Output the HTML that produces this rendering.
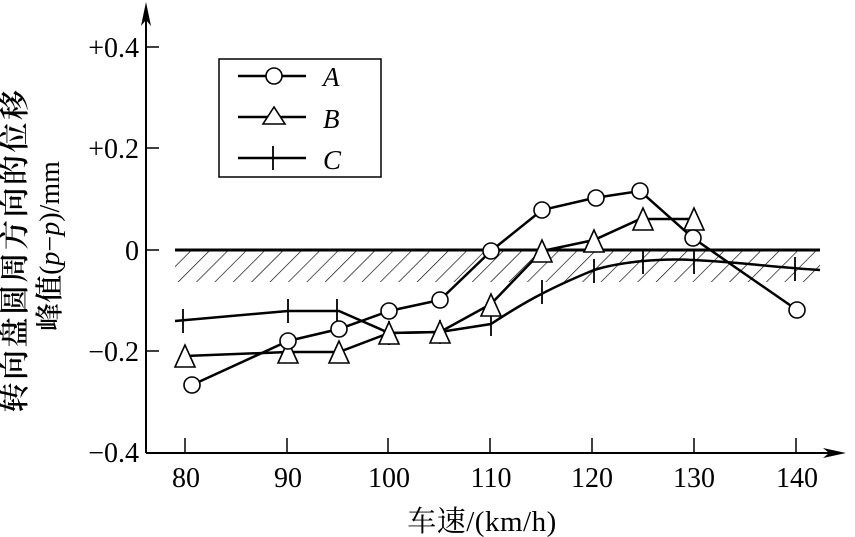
<!DOCTYPE html>
<html><head><style>body{margin:0;background:#fff}svg{display:block}</style></head><body>
<svg width="855" height="537" viewBox="0 0 855 537" xmlns="http://www.w3.org/2000/svg">
<defs>
<pattern id="h" patternUnits="userSpaceOnUse" width="13" height="13" patternTransform="rotate(45)">
<line x1="0" y1="0" x2="0" y2="13" stroke="#000" stroke-width="1.3"/>
</pattern>
</defs>
<rect x="175" y="251" width="645" height="31" fill="url(#h)"/>
<line x1="175" y1="250" x2="820" y2="250" stroke="#000" stroke-width="3"/>
<line x1="146" y1="8" x2="146" y2="453" stroke="#000" stroke-width="2"/>
<polygon points="146,2 141,26 146,20 151,26" fill="#000"/>
<line x1="146" y1="453" x2="838" y2="453" stroke="#000" stroke-width="2"/>
<polygon points="846,453 823,448 829,453 823,458" fill="#000"/>
<g stroke="#000" stroke-width="1.5">
<line x1="146" y1="47" x2="159" y2="47"/><line x1="146" y1="148" x2="159" y2="148"/>
<line x1="146" y1="250" x2="159" y2="250"/><line x1="146" y1="351" x2="159" y2="351"/>
<line x1="185" y1="438" x2="185" y2="453"/><line x1="287" y1="438" x2="287" y2="453"/>
<line x1="388" y1="438" x2="388" y2="453"/><line x1="490" y1="438" x2="490" y2="453"/>
<line x1="592" y1="438" x2="592" y2="453"/><line x1="694" y1="438" x2="694" y2="453"/>
<line x1="796" y1="438" x2="796" y2="453"/>
</g>
<g font-family="Liberation Serif, serif" font-size="28" fill="#000" text-anchor="end">
<text x="139" y="57">+0.4</text><text x="139" y="158">+0.2</text>
<text x="139" y="260">0</text><text x="139" y="361">−0.2</text><text x="139" y="462">−0.4</text>
</g>
<g font-family="Liberation Serif, serif" font-size="28" fill="#000" text-anchor="middle">
<text x="186" y="487">80</text><text x="288" y="487">90</text><text x="389" y="487">100</text>
<text x="491" y="487">110</text><text x="592" y="487">120</text><text x="694" y="487">130</text>
<text x="797" y="487">140</text>
</g>
<text x="482" y="531" text-anchor="middle" font-family="Liberation Serif, 'Noto Serif CJK SC', serif" font-size="29" letter-spacing="0.5">车速/(km/h)</text>
<g transform="translate(0,250) rotate(-90)" font-family="Liberation Serif, 'Noto Serif CJK SC', serif" text-anchor="middle">
<text x="0" y="25" font-size="30" font-weight="600" letter-spacing="2.5">转向盘圆周方向的位移</text>
<text x="4" y="59" font-size="28" font-weight="600">峰值<tspan font-weight="400">(<tspan font-style="italic">p</tspan>−<tspan font-style="italic">p</tspan>)/mm</tspan></text>
</g>
<g fill="none" stroke="#000" stroke-width="2.5">
<path d="M175,321 L288,311 L339,311 L389,333 L440,332 L491,324 C520,305 545,290 594,270 C620,262 660,258 693,260 C740,262 770,267 820,270"/>
<polyline points="185,356 288,352 339,352 389,333 440,332 491,304 542,251 594,240 640,219 694,219"/>
<polyline points="192,385 288,341 339,329 389,311 440,300 491,251 542,210 594,198 640,191 693,238 797,310"/>
</g>
<g stroke="#000" stroke-width="1.8">
<line x1="183" y1="309" x2="183" y2="333"/><line x1="288" y1="299" x2="288" y2="323"/>
<line x1="337" y1="299" x2="337" y2="323"/><line x1="389" y1="321" x2="389" y2="345"/>
<line x1="440" y1="320" x2="440" y2="344"/><line x1="491" y1="312" x2="491" y2="336"/>
<line x1="542" y1="280" x2="542" y2="304"/><line x1="594" y1="259" x2="594" y2="283"/>
<line x1="643" y1="250" x2="643" y2="274"/><line x1="694" y1="250" x2="694" y2="274"/>
<line x1="795" y1="257" x2="795" y2="281"/>
</g>
<g fill="#fff" stroke="#000" stroke-width="1.6">
<polygon points="185,345 175,367 195,367"/><polygon points="288,341 278,363 298,363"/>
<polygon points="339,341 329,363 349,363"/><polygon points="389,322 379,344 399,344"/>
<polygon points="440,321 430,343 450,343"/><polygon points="491,294 481,316 501,316"/>
<polygon points="542,240 532,262 552,262"/><polygon points="594,230 584,252 604,252"/>
<polygon points="643,208 633,230 653,230"/><polygon points="694,208 684,230 704,230"/>
</g>
<g fill="#fff" stroke="#000" stroke-width="1.6">
<ellipse cx="192" cy="385" rx="8" ry="8"/><ellipse cx="288" cy="341" rx="8" ry="8"/>
<ellipse cx="339" cy="329" rx="8" ry="8"/><ellipse cx="389" cy="311" rx="8" ry="8"/>
<ellipse cx="440" cy="300" rx="8" ry="8"/><ellipse cx="491" cy="251" rx="8" ry="8"/>
<ellipse cx="542" cy="210" rx="8" ry="8"/><ellipse cx="596" cy="198" rx="8" ry="8"/>
<ellipse cx="640" cy="191" rx="8" ry="8"/><ellipse cx="693" cy="238" rx="8" ry="8"/>
<ellipse cx="797" cy="310" rx="8" ry="8"/>
</g>
<rect x="219" y="59" width="162" height="118" fill="#fff" stroke="#000" stroke-width="1.5"/>
<g stroke="#000" stroke-width="2.5">
<line x1="238" y1="76" x2="306" y2="76"/><line x1="238" y1="117" x2="306" y2="117"/><line x1="238" y1="158" x2="306" y2="158"/>
</g>
<circle cx="274" cy="76" r="8" fill="#fff" stroke="#000" stroke-width="1.6"/>
<polygon points="274,107 263,124 285,124" fill="#fff" stroke="#000" stroke-width="1.6"/>
<line x1="273" y1="146" x2="273" y2="170" stroke="#000" stroke-width="1.8"/>
<g font-family="Liberation Serif, serif" font-style="italic" font-size="27">
<text x="323" y="86">A</text><text x="323" y="128">B</text><text x="323" y="169">C</text>
</g>
</svg>
</body></html>
